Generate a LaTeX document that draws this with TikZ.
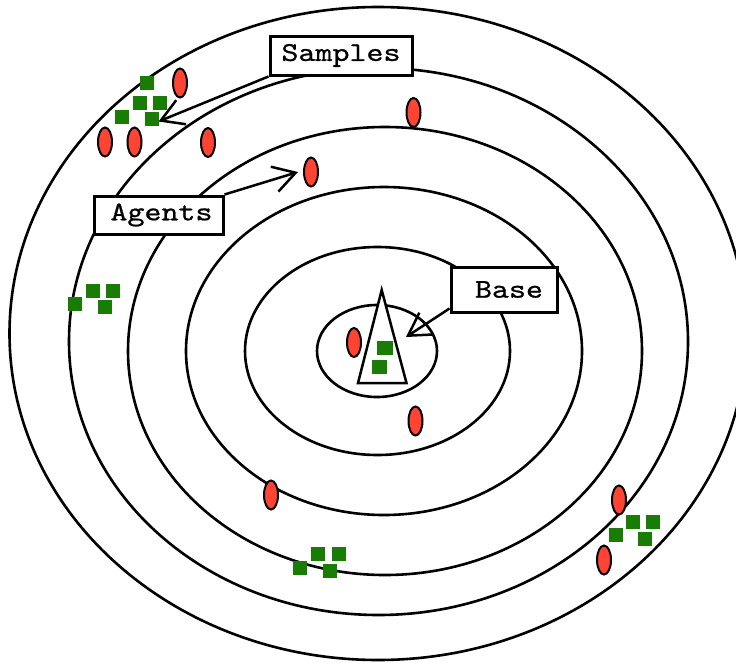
\documentclass[tikz,border=0pt]{standalone}
\usepackage{fontspec}
\newfontfamily\boxlabelfamily{lmmono10-regular.otf}[FakeStretch=1.2,FakeBold=0.8]
\usetikzlibrary{shapes.geometric,arrows.meta}
\definecolor{agentred}{RGB}{255,68,51}
\definecolor{sqgreen}{RGB}{25,125,5}
\tikzset{
  orbitline/.style={line width=2.6pt},
  agent/.style={ellipse, draw, line width=2pt, fill=agentred, minimum width=14pt, minimum height=29pt, inner sep=0pt},
  greensq/.style={rectangle, fill=sqgreen, minimum width=14pt, minimum height=14pt, inner sep=0pt},
  labelbox/.style={draw, line width=3pt, fill=white, inner sep=0pt, font=\boxlabelfamily\fontsize{27}{30}\selectfont},
  pointer/.style={line width=2.5pt, -{Straight Barb[length=22pt,width=26pt]}},
}
\begin{document}
\begin{tikzpicture}[x=1pt,y=-1pt]
\useasboundingbox (0,0) rectangle (736,664);
\clip (0,0) rectangle (736,664);
% orbits
\draw[orbitline] (378,333.5) ellipse [x radius=368.5, y radius=326.5];
\draw[orbitline] (378.5,341.5) ellipse [x radius=309.5, y radius=273.5];
\draw[orbitline] (385,351) ellipse [x radius=257, y radius=224];
\draw[orbitline] (384,351) ellipse [x radius=198, y radius=164];
\draw[orbitline] (377.5,351) ellipse [x radius=132.5, y radius=104];
\draw[orbitline] (377,351) ellipse [x radius=60, y radius=46];
% base triangle
\draw[line width=2.5pt, fill=white] (381.7,290) -- (406.5,383) -- (358,383) -- cycle;
\node[greensq, minimum width=16pt] (t1) at (384.7,347.7) {};
\node[greensq, minimum width=15pt] (t2) at (379,366.5) {};
% agents
\node[agent] (ag1) at (180,83) {};
\node[agent] (ag2) at (105,142) {};
\node[agent] (ag3) at (134.5,142) {};
\node[agent] (ag4) at (208,142.5) {};
\node[agent] (ag5) at (311,172) {};
\node[agent] (ag6) at (413.5,112.5) {};
\node[agent] (ag7) at (354,342.5) {};
\node[agent] (ag8) at (415.5,421) {};
\node[agent] (ag9) at (271,495) {};
\node[agent] (ag10) at (619,500) {};
\node[agent] (ag11) at (604,560) {};
% samples groups
\node[greensq] (a1) at (147.3,82.7) {};
\node[greensq] (a2) at (140,103.3) {};
\node[greensq] (a3) at (160,103.3) {};
\node[greensq] (a4) at (122.3,116.5) {};
\node[greensq] (a5) at (151.7,119.3) {};
\node[greensq] (b1) at (75,304) {};
\node[greensq] (b2) at (93.3,290.7) {};
\node[greensq] (b3) at (113.3,290.7) {};
\node[greensq] (b4) at (105.3,307.3) {};
\node[greensq] (c1) at (300,568) {};
\node[greensq] (c2) at (318.3,554.3) {};
\node[greensq] (c3) at (338.7,554.3) {};
\node[greensq] (c4) at (330,571) {};
\node[greensq] (d1) at (615.7,535.3) {};
\node[greensq] (d2) at (633.3,522) {};
\node[greensq] (d3) at (653.3,522) {};
\node[greensq] (d4) at (645.3,538.7) {};
% label boxes
\node[labelbox, minimum width=142pt, minimum height=39pt] (samplesbox) at (341,55.5) {Samples};
\node[labelbox, minimum width=129pt, minimum height=38pt] (agentsbox) at (158.5,215) {\hspace{6pt}Agents};
\node[labelbox, minimum width=106pt, minimum height=45pt] (basebox) at (504,289.5) {\hspace{10pt}Base};
% arrow targets
\coordinate (samplestip) at (158.5,121.5);
\coordinate (agentstip) at (298,172);
\coordinate (basetip) at (406,337);
\draw[pointer] (samplesbox.south west) -- (samplestip);
\draw[pointer] (agentsbox.north east) -- (agentstip);
\draw[pointer] ([yshift=5pt]basebox.south west) -- (basetip);
\end{tikzpicture}
\end{document}
